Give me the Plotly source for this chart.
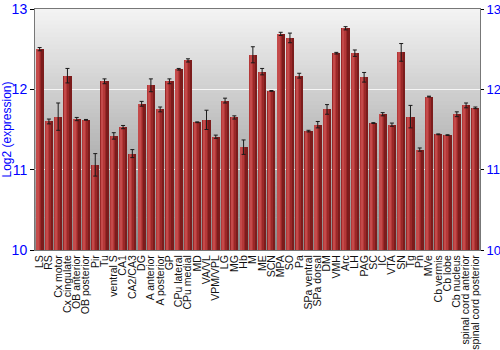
import plotly.graph_objects as go

categories = ["LS", "RS", "Cx motor", "Cx cingulate", "OB anterior", "OB posterior", "Pir", "Tu",
              "ventral S", "CA1", "CA2/CA3", "DG", "A anterior", "A posterior", "GP", "CPu lateral",
              "CPu medial", "MD", "VA/VL", "VPM/VPL", "LG", "MG", "Hb", "M", "ME", "SCN", "MPA", "SO",
              "Pa", "SPa ventral", "SPa dorsal", "DM", "VMH", "Arc", "LH", "PAG", "SC", "IC", "VTA", "SN",
              "Tg", "Pn", "MVe", "Cb vermis", "Cb lobe", "Cb nucleus", "spinal cord anterior",
              "spinal cord posterior"]
values = [12.50, 11.60, 11.66, 12.17, 11.63, 11.62, 11.06, 12.10,
          11.42, 11.53, 11.20, 11.82, 12.05, 11.75, 12.10, 12.25,
          12.36, 11.59, 11.62, 11.41, 11.86, 11.65, 11.28, 12.43, 12.22, 11.98, 12.69, 12.64,
          12.17, 11.48, 11.56, 11.75, 12.45, 12.76, 12.45, 12.15, 11.58, 11.69, 11.56, 12.46,
          11.66, 11.25, 11.91, 11.44, 11.43, 11.69, 11.80, 11.77]
errors = [0.02, 0.03, 0.17, 0.09, 0.02, 0.005, 0.14, 0.03,
          0.04, 0.02, 0.05, 0.03, 0.08, 0.03, 0.03, 0.01,
          0.02, 0.005, 0.12, 0.02, 0.03, 0.02, 0.09, 0.10, 0.04, 0.005, 0.02, 0.06,
          0.03, 0.01, 0.04, 0.06, 0.01, 0.02, 0.04, 0.06, 0.005, 0.02, 0.02, 0.11,
          0.14, 0.02, 0.005, 0.005, 0.005, 0.03, 0.03, 0.01]

x = list(range(len(categories)))
base = [10] * len(values)
heights = [v - 10 for v in values]

fig = go.Figure()
# bar layers for a horizontal gradient look
layers = [
    (-0.44, 0.88, "#7c1c1c"),
    (-0.44, 0.62, "#9a2828"),
    (-0.40, 0.40, "#b43838"),
    (-0.30, 0.18, "#c44a4a"),
]
for off, w, col in layers:
    fig.add_trace(go.Bar(x=x, y=heights, base=base, offset=off, width=w,
                         marker=dict(color=col, line=dict(width=0)),
                         hoverinfo="skip", showlegend=False))
fig.add_trace(go.Scatter(x=x, y=values, mode="markers",
                         marker=dict(size=1, color="rgba(0,0,0,0)"),
                         error_y=dict(type="data", array=errors, visible=True,
                                      color="#1a1a1a", thickness=1, width=2),
                         showlegend=False))

# background gradient
n = 60
top = (244, 244, 244)
bot = (136, 136, 136)
shapes = []
for i in range(n):
    t = (i + 0.5) / n
    c = tuple(int(round(top[k] + (bot[k] - top[k]) * t)) for k in range(3))
    shapes.append(dict(type="rect", xref="paper", yref="paper", x0=0, x1=1,
                       y0=1 - (i + 1) / n, y1=1 - i / n + 0.002, layer="below",
                       line=dict(width=0), fillcolor="rgb(%d,%d,%d)" % c))

fig.update_layout(
    width=500, height=350,
    margin=dict(l=35, r=20, t=9, b=100),
    paper_bgcolor="white", plot_bgcolor="#cccccc",
    barmode="overlay", bargap=0,
    shapes=shapes,
    font=dict(family="Liberation Sans, Arial, sans-serif"),
    xaxis=dict(tickmode="array", tickvals=x, ticktext=categories, tickangle=-90,
               range=[-0.5, len(categories) - 0.5], showgrid=False, ticks="",
               tickfont=dict(size=10.5, color="#111"), showline=True, linecolor="#777",
               mirror=True, automargin=False),
    yaxis=dict(range=[10, 13], tickvals=[10, 11, 12, 13], ticks="outside", ticklen=4,
               tickcolor="#000", tickfont=dict(size=14, color="blue"),
               title=dict(text="Log2 (expression)", font=dict(size=12, color="blue"), standoff=2),
               showgrid=True, gridcolor="rgba(255,255,255,0.8)", gridwidth=1,
               showline=True, linecolor="#777", zeroline=False, automargin=False),
    yaxis2=dict(range=[10, 13], tickvals=[10, 11, 12, 13], overlaying="y", side="right",
                ticks="outside", ticklen=3, tickcolor="#000",
                tickfont=dict(size=13, color="blue"), showgrid=False, showline=True,
                linecolor="#777", zeroline=False, automargin=False),
)
fig.add_trace(go.Scatter(x=[None], y=[None], yaxis="y2", showlegend=False, hoverinfo="skip"))

fig.write_html("out.html")
